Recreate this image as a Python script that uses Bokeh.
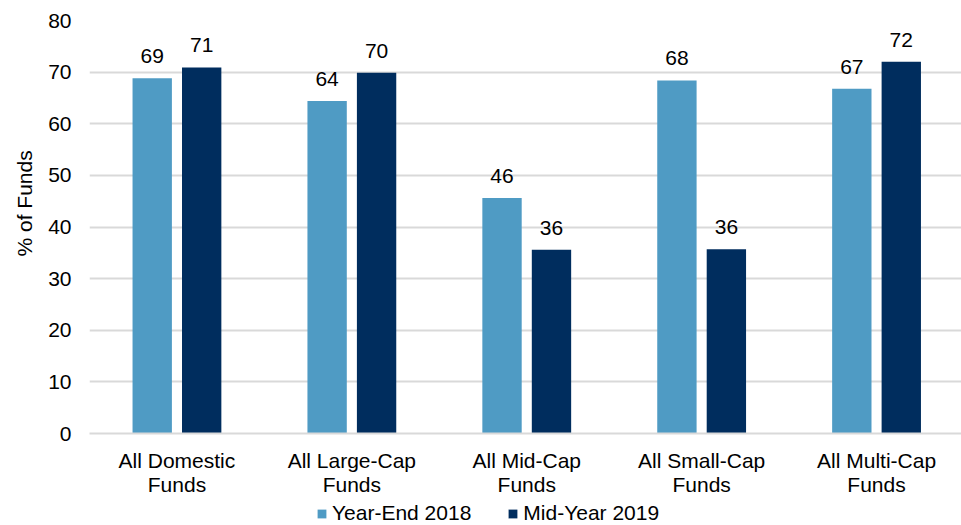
from bokeh.plotting import figure
from bokeh.layouts import column
from bokeh.models import (ColumnDataSource, Range1d, FixedTicker, Legend, LegendItem, Title)
from bokeh.transform import dodge
from bokeh.core.properties import value
from bokeh.embed import file_html
from bokeh.resources import INLINE

categories = ["All Domestic\nFunds", "All Large-Cap\nFunds", "All Mid-Cap\nFunds",
              "All Small-Cap\nFunds", "All Multi-Cap\nFunds"]
series_names = ["Year-End 2018", "Mid-Year 2019"]
year_end_2018 = [68.8, 64.4, 45.6, 68.4, 66.8]
mid_year_2019 = [70.9, 69.9, 35.6, 35.7, 72.0]
y_ticks = [0, 10, 20, 30, 40, 50, 60, 70, 80]
y_title = "% of Funds"

LIGHT = "#4F9BC4"
DARK = "#002D5E"
FONT = "Liberation Sans"
FS = "21px"

xs = list(range(len(categories)))
src = ColumnDataSource(dict(
    x=xs,
    a=year_end_2018,
    b=mid_year_2019,
    la=[str(round(v)) for v in year_end_2018],
    lb=[str(round(v)) for v in mid_year_2019],
))

p = figure(width=961, height=500, output_backend="svg", toolbar_location=None,
           x_range=Range1d(-0.5, 4.4857), y_range=Range1d(0, 80),
           min_border_left=88, min_border_right=0, min_border_top=20, min_border_bottom=67)
p.outline_line_color = None
p.background_fill_color = "white"
p.border_fill_color = "white"

off = 0.1414
w = 0.225
p.vbar(x=dodge("x", -off, range=p.x_range), top="a", width=w, source=src,
       fill_color=LIGHT, line_color=None)
p.vbar(x=dodge("x", off, range=p.x_range), top="b", width=w, source=src,
       fill_color=DARK, line_color=None)

for col, lab, d in (("a", "la", -off), ("b", "lb", off)):
    p.text(x=dodge("x", d, range=p.x_range), y=col, text=lab, source=src,
           text_font=value(FONT), text_font_size=FS, text_color="#000000",
           text_align="center", text_baseline="alphabetic", y_offset=-22)

# axes
p.yaxis.ticker = FixedTicker(ticks=y_ticks)
p.yaxis.axis_line_color = None
p.yaxis.major_tick_line_color = None
p.yaxis.minor_tick_line_color = None
p.yaxis.major_tick_out = 0
p.yaxis.major_label_standoff = 18
p.yaxis.major_label_text_font = FONT
p.yaxis.major_label_text_font_size = FS
p.yaxis.major_label_text_color = "#000000"

p.xaxis.ticker = FixedTicker(ticks=xs)
p.xaxis.major_label_overrides = {i: c for i, c in zip(xs, categories)}
p.xaxis.axis_line_color = "#D9D9D9"
p.xaxis.axis_line_width = 2
p.xaxis.major_tick_line_color = None
p.xaxis.minor_tick_line_color = None
p.xaxis.major_tick_out = 0
p.xaxis.major_tick_in = 0
p.xaxis.major_label_standoff = 15
p.xaxis.major_label_text_font = FONT
p.xaxis.major_label_text_font_size = FS
p.xaxis.major_label_text_color = "#000000"
p.xaxis.major_label_text_line_height = 1.05

p.xgrid.grid_line_color = None
p.ygrid.grid_line_color = "#D9D9D9"
p.ygrid.grid_line_width = 2

p.add_layout(Title(text=y_title, align="left", offset=177, text_font=FONT,
                   text_font_size=FS, text_font_style="normal", text_color="#000000",
                   standoff=20), "left")

# legend strip (its swatch renderers sit outside the strip's visible range)
lf = figure(width=961, height=25, output_backend="svg", toolbar_location=None,
            x_range=Range1d(-20, -19), y_range=Range1d(0, 1),
            x_axis_location=None, y_axis_location=None,
            min_border_left=0, min_border_right=0, min_border_top=0, min_border_bottom=0)
lf.grid.visible = False
lf.outline_line_color = None
r1 = lf.vbar(x="x", top="a", width=w, source=src, fill_color=LIGHT, line_color=None)
r2 = lf.vbar(x="x", top="b", width=w, source=src, fill_color=DARK, line_color=None)
legend = Legend(items=[LegendItem(label=series_names[0], renderers=[r1]),
                       LegendItem(label=series_names[1], renderers=[r2])],
                orientation="horizontal", location=(227, 0),
                glyph_width=11, glyph_height=11, label_standoff=5, spacing=36,
                padding=0, margin=0, border_line_color=None,
                background_fill_alpha=0,
                label_text_font=FONT, label_text_font_size=FS,
                label_text_color="#000000")
lf.add_layout(legend)

open("out.html", "w").write(file_html(column(p, lf, spacing=0), INLINE))
